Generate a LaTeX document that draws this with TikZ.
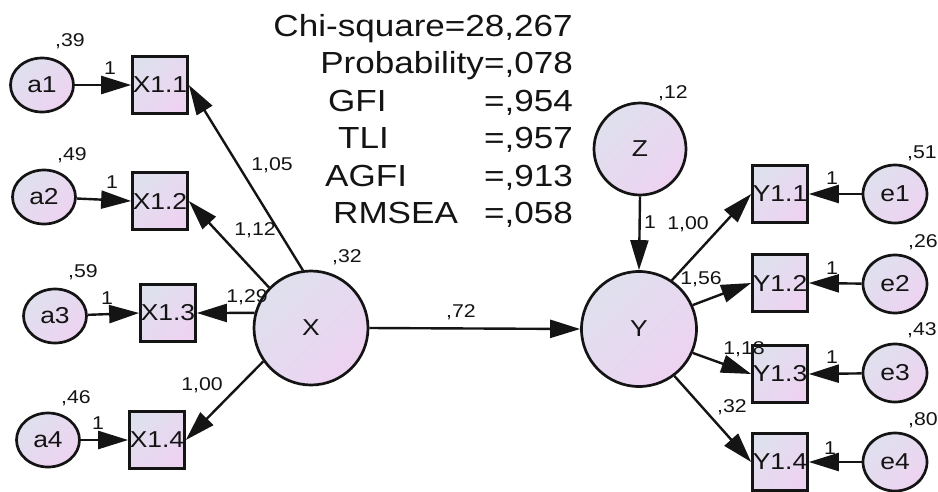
\documentclass[tikz,border=0pt]{standalone}
\usepackage{fontspec}
\setmainfont{Liberation Sans}[FakeStretch=1.15]
\usetikzlibrary{arrows.meta,shapes.geometric}
\definecolor{shA}{HTML}{DFE0EE}
\definecolor{shB}{HTML}{EDD3F1}
\definecolor{ink}{HTML}{141414}
\begin{document}
\begin{tikzpicture}[x=1pt,y=-1pt,
  shd/.style={draw=ink, line width=2.7pt, top color=shA, bottom color=shB, shading angle=45, inner sep=0pt, text=ink},
  lat/.style={shd, circle, font=\fontsize{23}{26}\selectfont},
  err/.style={shd, ellipse, minimum width=63pt, minimum height=54pt, font=\fontsize{23}{26}\selectfont},
  obs/.style={shd, rectangle, minimum width=55pt, minimum height=57pt, font=\fontsize{23}{26}\selectfont},
  lbl/.style={font=\fontsize{18.5}{21}\selectfont, inner sep=0pt, text=ink},
  ttl/.style={font=\fontsize{30.5}{34}\selectfont, inner sep=0pt, text=ink},
  arr/.style={draw=ink, line width=2.4pt, -{Triangle[length=30pt,width=18pt]}}
]
\useasboundingbox (0,0) rectangle (938,491);
\fill[white] (0,0) rectangle (938,491);

% fit statistics
\node[ttl, anchor=base east] (chi) at (573,36) {Chi-square=28,267};
\node[ttl, anchor=base east] (prob) at (573,73.5) {Probability=,078};
\node[ttl, anchor=base west] (gfin) at (328,111) {GFI};
\node[ttl, anchor=base east] (gfiv) at (573,111) {=,954};
\node[ttl, anchor=base west] (tlin) at (338,148.5) {TLI};
\node[ttl, anchor=base east] (tliv) at (573,148.5) {=,957};
\node[ttl, anchor=base west] (agfin) at (325,186) {AGFI};
\node[ttl, anchor=base east] (agfiv) at (573,186) {=,913};
\node[ttl, anchor=base west] (rmsn) at (333,223) {RMSEA};
\node[ttl, anchor=base east] (rmsv) at (573,223) {=,058};

% left side
\node[err] (a1) at (42,85) {a1};
\node[err] (a2) at (44,197) {a2};
\node[err] (a3) at (55,316) {a3};
\node[err] (a4) at (48,440) {a4};
\node[obs] (x1) at (160,85) {X1.1};
\node[obs] (x2) at (160,201) {X1.2};
\node[obs] (x3) at (168,313) {X1.3};
\node[obs] (x4) at (157,440) {X1.4};
\node[lat, minimum size=114pt] (X) at (311,328) {X};

% right side
\node[lat, minimum size=115pt] (Y) at (639,329) {Y};
\node[lat, minimum size=92pt] (Z) at (640,149) {Z};
\node[obs] (y1) at (780,194) {Y1.1};
\node[obs] (y2) at (780,283) {Y1.2};
\node[obs] (y3) at (780,374) {Y1.3};
\node[obs] (y4) at (780,462) {Y1.4};
\node[err, minimum width=64pt, minimum height=58pt] (e1) at (895,194) {e1};
\node[err, minimum width=64pt, minimum height=58pt] (e2) at (895,284) {e2};
\node[err, minimum width=64pt, minimum height=58pt] (e3) at (895,373) {e3};
\node[err, minimum width=64pt, minimum height=58pt] (e4) at (895,462) {e4};

% connectors
\draw[arr] (a1) -- (x1.west);
\draw[arr] (a2) -- (x2.west);
\draw[arr] (a3) -- (x3.west);
\draw[arr] (a4) -- (x4.west);
\draw[arr] (X.98) -- (x1.east);
\draw[arr] (X.136) -- (x2.east);
\draw[arr] (X.165) -- (x3.east);
\draw[arr] (X.215) -- (x4.east);
\draw[arr] (X.east) -- (Y.west);
\draw[arr] (Z.south) -- (Y.north);
\draw[arr] (Y.56) -- (y1.west);
\draw[arr] (Y.24) -- (y2.west);
\draw[arr] (Y.-24) -- (y3.west);
\draw[arr] (Y.-53) -- (y4.west);
\draw[arr] (e1) -- (y1.east);
\draw[arr] (e2) -- (y2.east);
\draw[arr] (e3) -- (y3.east);
\draw[arr] (e4) -- (y4.east);

% labels
\node[lbl] (la1) at (70,41) {,39};
\node[lbl] (la2) at (72,155) {,49};
\node[lbl] (la3) at (83,272) {,59};
\node[lbl] (la4) at (76,398) {,46};
\node[lbl] (o1) at (110,68) {1};
\node[lbl] (o2) at (112,182) {1};
\node[lbl] (o3) at (107,298) {1};
\node[lbl] (o4) at (98,423) {1};
\node[lbl] (l105) at (272,165) {1,05};
\node[lbl] (l112) at (255,230) {1,12};
\node[lbl] (l129) at (247,297) {1,29};
\node[lbl] (l100a) at (202,385) {1,00};
\node[lbl] (lX) at (347,257) {,32};
\node[lbl] (l72) at (461,312) {,72};
\node[lbl] (lZ) at (673,93) {,12};
\node[lbl] (oz) at (650,222) {1};
\node[lbl] (l100b) at (688,224) {1,00};
\node[lbl] (l156) at (701,279) {1,56};
\node[lbl] (l118) at (744,349) {1,18};
\node[lbl] (l32) at (732,407) {,32};
\node[lbl] (le1) at (922,153) {,51};
\node[lbl] (le2) at (923,242) {,26};
\node[lbl] (le3) at (922,330) {,43};
\node[lbl] (le4) at (923,420) {,80};
\node[lbl] (oe1) at (832,178) {1};
\node[lbl] (oe2) at (832,268) {1};
\node[lbl] (oe3) at (832,357) {1};
\node[lbl] (oe4) at (830,448) {1};
\end{tikzpicture}
\end{document}
